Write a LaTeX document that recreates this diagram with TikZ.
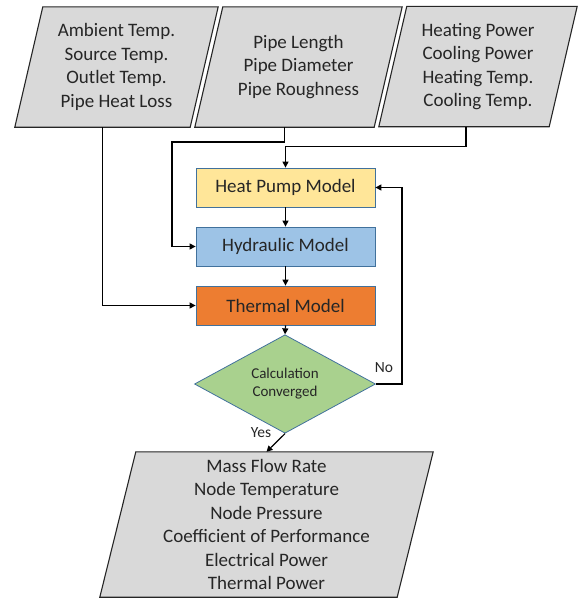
\documentclass[tikz,border=0pt]{standalone}
\usepackage{fontspec}
\setmainfont{Carlito}
\usetikzlibrary{shapes.geometric,arrows.meta,backgrounds}
\definecolor{pgray}{HTML}{D9D9D9}
\definecolor{hpfill}{HTML}{FFE699}
\definecolor{hydfill}{HTML}{9DC3E6}
\definecolor{thfill}{HTML}{ED7D31}
\definecolor{dfill}{HTML}{A9D18E}
\definecolor{bline}{HTML}{41719C}
\definecolor{txtc}{HTML}{262626}
\begin{document}
\begin{tikzpicture}[x=1pt,y=1pt,
  txt/.style={font=\fontsize{19}{23.5}\selectfont, text=txtc, align=center, inner sep=0pt},
  para/.style={txt, minimum height=120pt},
  paraline/.style={draw=black!85, fill=pgray, line width=1.1pt},
  model/.style={txt, draw=bline, line width=0.8pt, minimum width=179pt, minimum height=39pt},
  cond/.style={diamond, draw=bline, line width=0.8pt, fill=dfill, inner sep=0pt,
    minimum width=181pt, minimum height=84pt, font=\fontsize{15}{18}\selectfont, text=txtc, align=center},
  lbl/.style={font=\fontsize{15.5}{18}\selectfont, text=txtc, inner sep=0pt},
  arr/.style={-{Triangle[length=6pt,width=6pt]}, line width=1.2pt, draw=black}
]
\useasboundingbox (0,0) rectangle (580,-598);

% input parallelograms (text nodes)
\node[para, minimum width=203pt] (amb) at (116.5,-67) {Ambient Temp.\\Source Temp.\\Outlet Temp.\\Pipe Heat Loss};
\node[para, minimum width=207pt] (pipe) at (298.5,-67) {Pipe Length\\Pipe Diameter\\Pipe Roughness};
\node[para, minimum width=198pt] (hpin) at (478,-66.5) {Heating Power\\Cooling Power\\Heating Temp.\\Cooling Temp.};
\node[txt, minimum width=333pt, minimum height=145pt] (out) at (266.5,-524.5)
  {Mass Flow Rate\\Node Temperature\\Node Pressure\\Coefficient of Performance\\Electrical Power\\Thermal Power};

\begin{scope}[on background layer]
  \draw[paraline] ([xshift=28pt]amb.north west) -- (amb.north east) -- ([xshift=-28pt]amb.south east) -- (amb.south west) -- cycle;
  \draw[paraline] ([xshift=28pt]pipe.north west) -- (pipe.north east) -- ([xshift=-28pt]pipe.south east) -- (pipe.south west) -- cycle;
  \draw[paraline] ([xshift=28pt]hpin.north west) -- (hpin.north east) -- ([xshift=-28pt]hpin.south east) -- (hpin.south west) -- cycle;
  \draw[paraline] ([xshift=36pt]out.north west) -- (out.north east) -- ([xshift=-36pt]out.south east) -- (out.south west) -- cycle;
\end{scope}

\coordinate (ambB) at ([xshift=-14pt]amb.south);
\coordinate (pipeB) at ([xshift=-14pt]pipe.south);
\coordinate (hpinB) at ([xshift=-12pt]hpin.south);

% process boxes
\node[model, fill=hpfill] (hp) at (285.5,-187.5) {Heat Pump Model};
\node[model, fill=hydfill] (hyd) at (285.5,-246.5) {Hydraulic Model};
\node[model, fill=thfill] (th) at (285.5,-305.5) {Thermal Model};
\node[cond] (conv) at (285,-384) {Calculation\\Converged};

\coordinate (pipeK) at (172,-142);
\coordinate (loopR) at (402,-384);

% connectors
\draw[arr] (ambB) |- (th.west);
\draw[arr] (pipeB) |- (pipeK) |- (hyd.west);
\draw[arr] (hpinB) |- ([yshift=21pt]hp.north) -- (hp.north);
\draw[arr] (hp.south) -- (hyd.north);
\draw[arr] (hyd.south) -- (th.north);
\draw[arr] (th.south) -- (conv.north);
\draw[arr] (conv.south) -- (out.north);
\draw[arr] (conv.east) -- (loopR) |- (hp.east);

\node[lbl] (no) at (384,-368) {No};
\node[lbl] (yes) at (261,-433) {Yes};
\end{tikzpicture}
\end{document}
